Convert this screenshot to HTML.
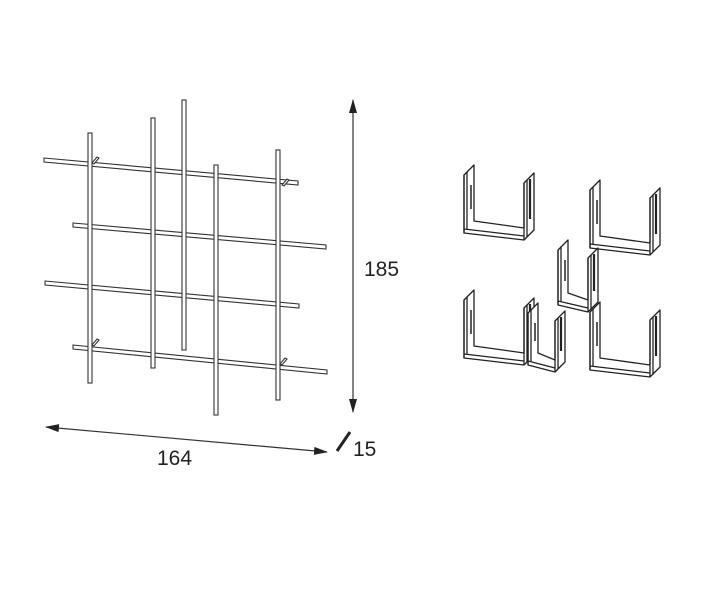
<!DOCTYPE html>
<html><head><meta charset="utf-8"><style>
html,body{margin:0;padding:0;background:#fff;width:704px;height:598px;overflow:hidden}
svg{display:block}
text{font-family:"Liberation Sans",sans-serif;fill:#222}
</style></head><body>
<svg id="s" width="704" height="598" viewBox="0 0 704 598">
<defs>
<marker id="ar" markerWidth="14" markerHeight="8" refX="13" refY="4" orient="auto-start-reverse" markerUnits="userSpaceOnUse">
<path d="M0,0 L14,4 L0,8 Z" fill="#222"/></marker>
</defs>
<g id="grid" fill="#fff" stroke="#333" stroke-width="1.1"></g>
<line x1="353" y1="100" x2="353" y2="412" stroke="#333" stroke-width="1.2" marker-start="url(#ar)" marker-end="url(#ar)"/>
<line x1="46" y1="427" x2="327" y2="452" stroke="#333" stroke-width="1.2" marker-start="url(#ar)" marker-end="url(#ar)"/>
<line x1="337" y1="451" x2="350" y2="432" stroke="#222" stroke-width="3"/>
<text x="364" y="276" font-size="21">185</text>
<text x="157" y="465" font-size="21">164</text>
<text x="353" y="456" font-size="21">15</text>
<g id="us" fill="none" stroke="#222" stroke-width="1.3" stroke-linejoin="round"></g>
</svg>
<script>
var NS="http://www.w3.org/2000/svg";
function el(p,t,a){var e=document.createElementNS(NS,t);for(var k in a)e.setAttribute(k,a[k]);p.appendChild(e);return e;}
var g=document.getElementById('grid');
function rodH(x1,y1,x2,y2){el(g,'polygon',{points:[x1,y1-2,x2,y2-2,x2,y2+2,x1,y1+2].join(' ')});}
function rodV(x,y1,y2){el(g,'rect',{x:x-2,y:y1,width:4,height:y2-y1});}
rodH(44,160,298,183);rodH(73,225,326,247);rodH(45,283,299,306);rodH(73,347,327,372);
rodV(90,133,383);rodV(153,118,368);rodV(184,100,350);rodV(216,165,415);rodV(278,150,400);
[[95,158],[285,180],[95,340],[283,359]].forEach(function(p){el(g,'path',{d:'M'+(p[0]-3)+','+(p[1]+5)+' l5,-6 l2,1 l-5,6z'});});
var u=document.getElementById('us');
function L(a){el(u,'polyline',{points:a.join(' ')});}
function U(x,y,w,h){
 var d=10;
 el(u,'polygon',{points:[x,y, x+d,y-d, x+d,y+h-12, x+w,y+h-5, x+w,y+8, x+w+d,y-2, x+w+d,y+h-3, x+w,y+h+7, x,y+h].join(' '),fill:'#fff'});
 L([x,y,x,y+h]);
 L([x+w,y+h+7,x+w,y+8]);
 L([x,y+h-4,x+w,y+h+3]);
 L([x+3,y-3,x+3,y+h-4]);
 L([x+w+3,y+5,x+w+3,y+h+4]);
 el(u,'line',{x1:x+w+d/2+1,y1:y+4,x2:x+w+d/2+1,y2:y+h-14,'stroke-width':2.2});
 el(u,'line',{x1:x+d/2+2,y1:y+10,x2:x+d/2+2,y2:y+h-24,'stroke-width':1.5});
}
U(464,175,60,58);U(590,190,60,58);U(558,250,30,55);U(464,300,60,58);U(528,313,27,52);U(590,312,60,58);
</script>
</body></html>
